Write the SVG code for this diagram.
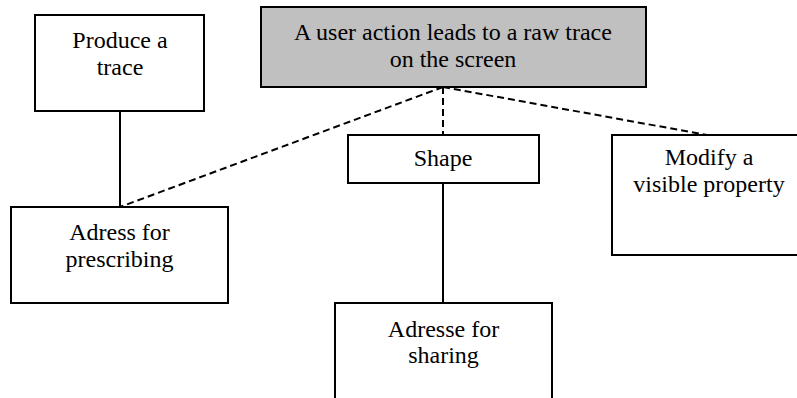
<svg xmlns="http://www.w3.org/2000/svg" width="797" height="398" viewBox="0 0 797 398">
<style>
.box{fill:#fff;stroke:#000;stroke-width:2}
.root{fill:#c0c0c0;stroke:#000;stroke-width:2}
.t{font-family:"Liberation Serif","Times New Roman",serif;font-size:24px;fill:#000;text-anchor:middle}
.solid{stroke:#000;stroke-width:2;fill:none}
.dash{stroke:#000;stroke-width:2;fill:none;stroke-dasharray:7 4}
</style>
<rect width="797" height="398" fill="#fff"/>
<g id="connectors">
<line class="dash" x1="443" y1="87" x2="120" y2="207"/>
<line class="dash" x1="443" y1="87" x2="443" y2="135"/>
<line class="dash" x1="443" y1="87" x2="707" y2="135"/>
<line class="solid" x1="120" y1="111" x2="120" y2="207"/>
<line class="solid" x1="443" y1="183" x2="443" y2="303"/>
</g>
<g id="root">
<rect class="root" x="261" y="7" width="385" height="80"/>
<text class="t" x="453" y="40">A user action leads to a raw trace</text>
<text class="t" x="453" y="67">on the screen</text>
</g>
<g id="produce">
<rect class="box" x="35" y="15" width="169" height="96"/>
<text class="t" x="120" y="48">Produce a</text>
<text class="t" x="120" y="75">trace</text>
</g>
<g id="prescribing">
<rect class="box" x="11" y="207" width="217" height="96"/>
<text class="t" x="119.5" y="240">Adress for</text>
<text class="t" x="119.5" y="267">prescribing</text>
</g>
<g id="shape">
<rect class="box" x="348" y="135" width="191" height="48"/>
<text class="t" x="443" y="166">Shape</text>
</g>
<g id="modify">
<rect class="box" x="612" y="135" width="196" height="120"/>
<text class="t" x="709" y="165">Modify a</text>
<text class="t" x="709" y="192">visible property</text>
</g>
<g id="sharing">
<rect class="box" x="335" y="303" width="217" height="110"/>
<text class="t" x="443.5" y="337">Adresse for</text>
<text class="t" x="443.5" y="363">sharing</text>
</g>
</svg>
